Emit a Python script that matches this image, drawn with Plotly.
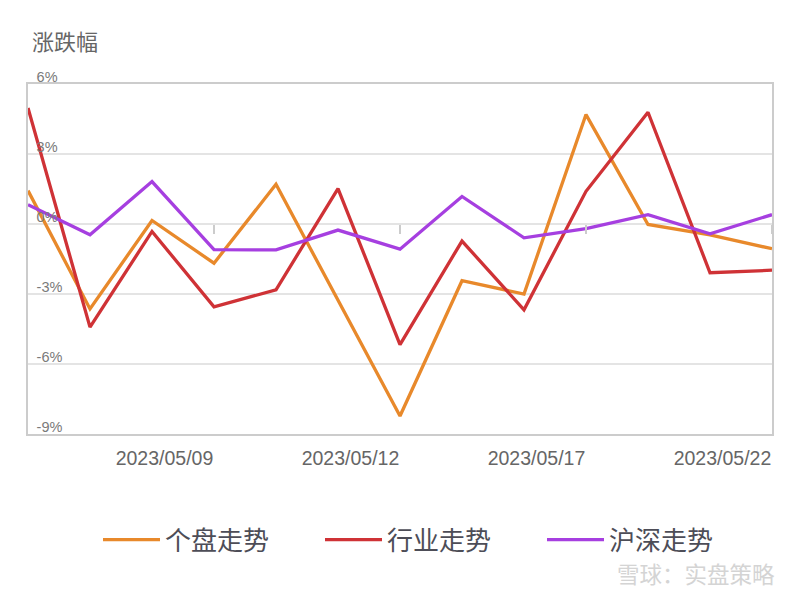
import plotly.graph_objects as go

dates = ["2023/05/04", "2023/05/05", "2023/05/08", "2023/05/09", "2023/05/10",
         "2023/05/11", "2023/05/12", "2023/05/15", "2023/05/16", "2023/05/17",
         "2023/05/18", "2023/05/19", "2023/05/22"]
shown_labels = ["2023/05/09", "2023/05/12", "2023/05/17", "2023/05/22"]

stock = [1.43, -3.64, 0.15, -1.68, 1.70, -3.29, -8.23, -2.43, -3.00, 4.69, -0.02, -0.47, -1.06]
industry = [4.97, -4.42, -0.32, -3.55, -2.82, 1.52, -5.17, -0.73, -3.68, 1.40, 4.79, -2.09, -1.98]
index_hs = [0.83, -0.46, 1.82, -1.10, -1.11, -0.26, -1.08, 1.18, -0.59, -0.20, 0.40, -0.42, 0.40]

series_names = ["个盘走势", "行业走势", "沪深走势"]
series_colors = ["#E8892B", "#CF3236", "#A63FE0"]
y_ticks = [-9, -6, -3, 0, 3, 6]
y_ticktext = [f"{v}%" for v in y_ticks]

FONT = "Liberation Sans, Arial, Noto Sans CJK SC, sans-serif"
CJK = "Noto Sans CJK SC, sans-serif"

xs = list(range(len(dates)))
tickvals = [dates.index(d) for d in shown_labels]
x_range = [0, len(dates) - 1]
y_range = [-9, 6]
zero_pos = (0 - y_range[0]) / (y_range[1] - y_range[0])

fig = go.Figure()
# invisible carrier trace so the zero-line tick axis is drawn
fig.add_trace(go.Scatter(x=xs, y=index_hs, xaxis="x2", yaxis="y", mode="lines",
                         line=dict(width=0, color="rgba(0,0,0,0)"), opacity=0,
                         showlegend=False, hoverinfo="skip"))
for name, vals, col in zip(series_names, [stock, industry, index_hs], series_colors):
    fig.add_trace(go.Scatter(x=xs, y=vals, name=name, mode="lines",
                             line=dict(color=col, width=3.3)))

fig.update_layout(
    width=800, height=599,
    margin=dict(l=28, r=28, t=83.5, b=165),
    plot_bgcolor="white", paper_bgcolor="white",
    title=dict(text="涨跌幅", x=32/800, xanchor="left", xref="container",
               y=1-42/599, yanchor="middle", yref="container",
               font=dict(family=CJK, size=22, color="#666666")),
    showlegend=True,
    legend=dict(orientation="h", x=(98-28)/744, xanchor="left", y=-0.302, yanchor="middle",
                font=dict(family=CJK, size=26, color="#4d4d57"),
                entrywidth=150, entrywidthmode="pixels", itemwidth=57,
                borderwidth=0, bgcolor="rgba(0,0,0,0)"),
    xaxis=dict(range=x_range, tickvals=tickvals, ticktext=shown_labels,
               ticklabelposition="outside left", ticks="", showgrid=False,
               ticklabelstandoff=6,
               showline=True, linecolor="#cccccc", linewidth=1.5, mirror=True,
               zeroline=False, tickfont=dict(family=FONT, size=19.5, color="#666666")),
    xaxis2=dict(overlaying="x", anchor="free", position=zero_pos, range=x_range,
                side="bottom", tickvals=tickvals, ticks="outside", ticklen=9,
                tickcolor="#cccccc", tickwidth=1.5, showticklabels=False,
                showgrid=False, showline=False, zeroline=False),
    yaxis=dict(range=y_range, tickvals=y_ticks, ticktext=y_ticktext,
               ticklabelposition="inside top", ticklabeloverflow="allow",
               ticklabelstandoff=8, ticklabelshift=3,
               showgrid=True, gridcolor="#e4e4e4",
               gridwidth=1.5, zeroline=False, showline=True, linecolor="#cccccc",
               linewidth=1.5, mirror=True,
               tickfont=dict(family=FONT, size=14.5, color="#7a7a7a")),
)

fig.add_annotation(text="雪球：实盘策略", xref="paper", yref="paper",
                   x=1.0063, xanchor="right", y=-0.397, yanchor="middle", showarrow=False,
                   font=dict(family=CJK, size=22.5, color="#d4d4d4"))

fig.write_html("out.html")
